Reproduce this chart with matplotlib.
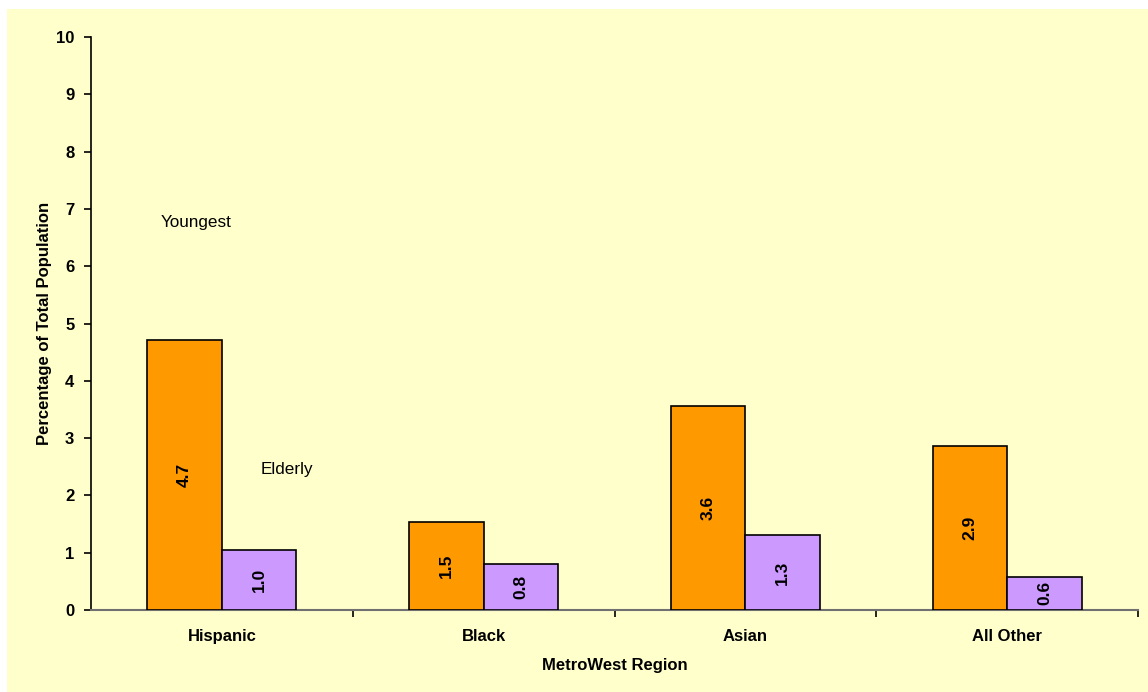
#!/usr/bin/env python

# matplotlib, numpy
import numpy as np
import matplotlib
matplotlib.use("Agg")
import matplotlib.pyplot as plt
from matplotlib.patches import Rectangle

"""
---------- Data ----------
"""
categories = ["Hispanic", "Black", "Asian", "All Other"]
youngest = [4.72, 1.54, 3.56, 2.86]
elderly = [1.04, 0.80, 1.31, 0.58]
yticks = list(range(0, 11))

"""
---------- Plot ----------
"""
plt.rcParams["font.family"] = ["Liberation Sans", "DejaVu Sans"]

fig = plt.figure(figsize=(11.48, 6.92), dpi=100)
fig.patch.set_facecolor("white")
# yellow chart area with a small white margin on top/left
fig.patches.append(Rectangle((7 / 1148, 0), 1 - 7 / 1148, 1 - 9 / 692,
                             transform=fig.transFigure, facecolor="#FFFFCC",
                             edgecolor="none", zorder=-10))

ax = fig.add_axes([91 / 1148, 82 / 692, (1138 - 91) / 1148, (610 - 37) / 692])
ax.set_facecolor("#FFFFCC")

x = np.arange(len(categories))
w = 0.285
b1 = ax.bar(x - w / 2, youngest, w, color="#FF9900", edgecolor="black", linewidth=1.2, zorder=3)
b2 = ax.bar(x + w / 2, elderly, w, color="#CC99FF", edgecolor="black", linewidth=1.2, zorder=3)

# value labels inside the bars
for bars, vals in [(b1, youngest), (b2, elderly)]:
    for bar, v in zip(bars, vals):
        ax.text(bar.get_x() + bar.get_width() / 2, v / 2, "{:.1f}".format(v),
                rotation=90, ha="center", va="center", fontsize=12.5,
                fontweight="bold", zorder=4)

ax.text(-0.1, 6.77, "Youngest", ha="center", va="center", fontsize=12.3)
ax.text(0.25, 2.46, "Elderly", ha="center", va="center", fontsize=12.3)

ax.set_xlim(-0.5, len(categories) - 0.5)
ax.set_ylim(0, 10)
ax.set_yticks(yticks)
ax.set_yticklabels([str(t) for t in yticks], fontweight="bold", fontsize=12)
ax.set_xticks(x)
ax.set_xticklabels(categories, fontweight="bold", fontsize=12)
ax.set_xticks(np.arange(0.5, len(categories) - 0.5 + 0.01, 1.0), minor=True)
ax.tick_params(axis="x", which="major", length=0, pad=13.5)
ax.tick_params(axis="x", which="minor", length=5, width=1.2, direction="out")
ax.tick_params(axis="y", length=5, width=1.2, direction="out", pad=7)

for s in ["top", "right"]:
    ax.spines[s].set_visible(False)
ax.spines["left"].set_linewidth(1.2)
ax.spines["bottom"].set_color("#707070")
ax.spines["bottom"].set_linewidth(1.5)

ax.set_ylabel("Percentage of Total Population", fontweight="bold", fontsize=12, labelpad=3)
ax.set_xlabel("MetroWest Region", fontweight="bold", fontsize=12, labelpad=10)

fig.savefig("out.png", dpi=100)
